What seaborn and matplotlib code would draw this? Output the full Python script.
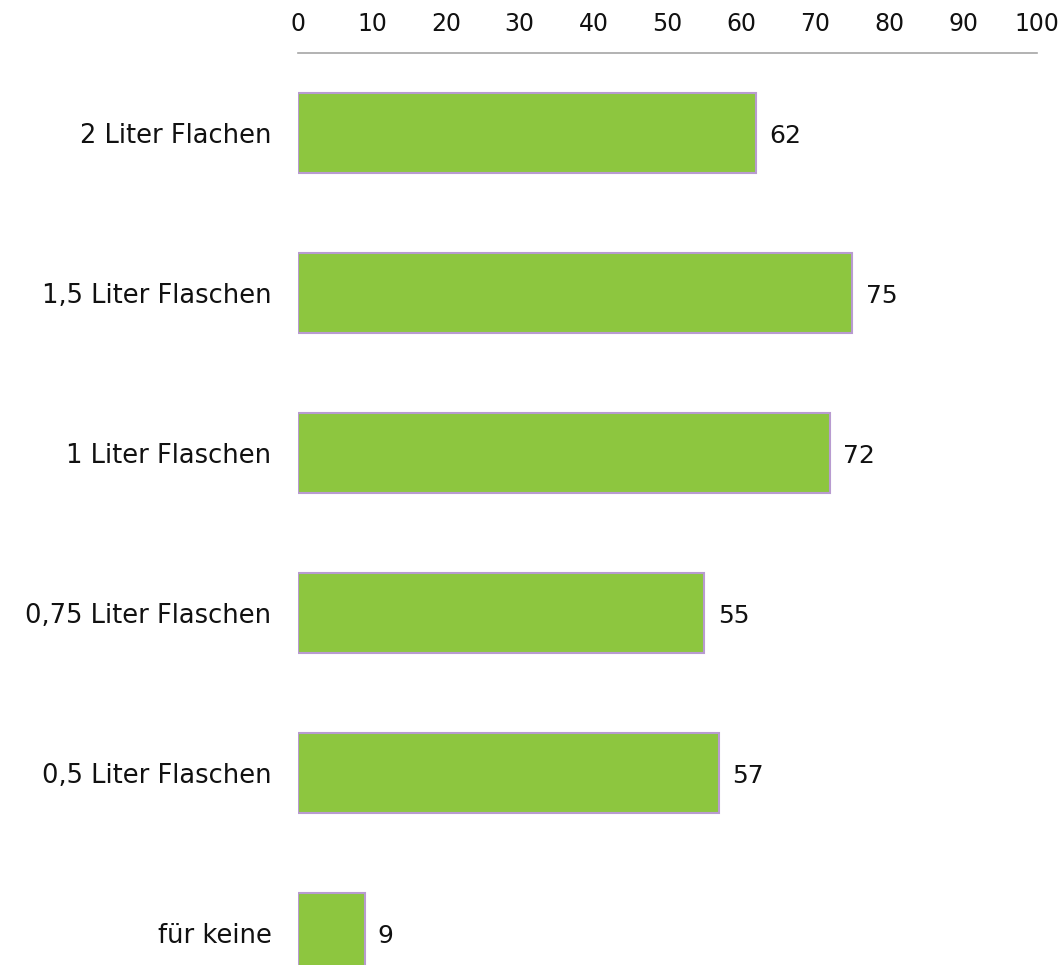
import pandas as pd
import matplotlib.pyplot as plt
import seaborn as sns

categories = ['2 Liter Flachen', '1,5 Liter Flaschen', '1 Liter Flaschen',
              '0,75 Liter Flaschen', '0,5 Liter Flaschen', 'für keine']
values = [62, 75, 72, 55, 57, 9]
ticks = [0, 10, 20, 30, 40, 50, 60, 70, 80, 90, 100]

df = pd.DataFrame({'kategorie': categories, 'wert': values})

sns.set_style('white')
plt.rcParams['font.family'] = ['DejaVu Sans']

fig = plt.figure(figsize=(10.64, 9.65), dpi=100)
ax = fig.add_axes([298 / 1064, 0, 739 / 1064, 1 - 53 / 965])

sns.barplot(data=df, y='kategorie', x='wert', orient='h', color='#8DC63F',
            saturation=1, edgecolor='#B89BD0', linewidth=1.5, width=0.5, ax=ax)

for i, v in enumerate(values):
    ax.text(v + 1.8, i + 0.02, str(v), va='center', ha='left', fontsize=18, color='#111111')

ax.set_xlim(0, 100)
ax.set_ylim(5.2, -0.5)
ax.set_xticks(ticks)
ax.xaxis.tick_top()
ax.tick_params(axis='x', length=0, pad=12, labelsize=17, labelcolor='#111111')
ax.tick_params(axis='y', length=0, pad=19, labelsize=18.5, labelcolor='#111111')
ax.set_xlabel('')
ax.set_ylabel('')
for s in ['left', 'right', 'bottom']:
    ax.spines[s].set_visible(False)
ax.spines['top'].set_color('#A6A6A6')
ax.spines['top'].set_linewidth(1.2)

fig.savefig('out.png', dpi=100)
